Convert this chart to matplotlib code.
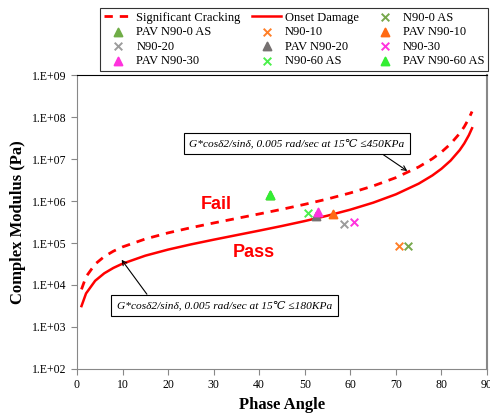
import matplotlib.pyplot as plt
import numpy as np
from matplotlib.lines import Line2D

plt.rcParams['font.family'] = ['Liberation Serif', 'DejaVu Serif']

# criteria curves (phase angle, modulus)
crit_angle = [1, 2, 4, 6, 8, 10, 15, 20, 25, 30, 35, 40, 45, 50, 55, 60,
              65, 70, 75, 78, 80, 82, 84, 85, 86, 86.7]
cracking = [7860, 15700, 31500, 47600, 63900, 80600, 124800, 174300, 231500,
            300000, 384700, 492900, 636400, 834300, 1120000, 1559000, 2283000,
            3615000, 6489000, 10180000, 14700000, 23010000, 40960000,
            59010000, 92250000, 135600000]
onset = [3140, 6290, 12600, 19000, 25500, 32200, 49900, 69700, 92600, 120000,
         153900, 197200, 254600, 333700, 448200, 623500, 913400, 1446000,
         2596000, 4073000, 5879000, 9203000, 16380000, 23610000, 36900000,
         54230000]

# samples: name, phase angle, modulus
samples = ["N90-0 AS", "PAV N90-0 AS", "N90-10", "PAV N90-10", "N90-20",
           "PAV N90-20", "N90-30", "PAV N90-30", "N90-60 AS", "PAV N90-60 AS"]
phase = [72.7, 42.3, 70.7, 56.3, 58.7, 52.5, 60.9, 53.0, 50.6, 42.4]
modulus = [87000, 1380000, 85000, 480000, 280000, 450000, 320000, 560000,
           510000, 1380000]
markers = ["x", "^", "x", "^", "x", "^", "x", "^", "x", "^"]
colors = ["#77a84c", "#70ad47", "#ff7f27", "#ff6a13", "#9c9c9c", "#767171",
          "#ff33dd", "#ff33dd", "#4cf04c", "#33ee33"]

fig = plt.figure(figsize=(4.9, 4.15), dpi=100)
ax = fig.add_axes([0.157, 0.111, 0.837, 0.708])

ln_sc, = ax.plot(crit_angle, cracking, color="red", lw=2, ls=(0, (3, 2.5)))
ln_on, = ax.plot(crit_angle, onset, color="red", lw=1.8)

handles = {}
for name, x, y, m, c in zip(samples, phase, modulus, markers, colors):
    h = ax.scatter([x], [y], marker=m, color=c, s=32 if m == "^" else 30,
                   linewidths=1.4, zorder=3)
    handles[name] = h

ax.set_yscale("log")
ax.set_ylim(1e2, 1e9)
ax.set_xlim(0, 90)
ax.set_xticks(range(0, 91, 10))
ax.set_yticks([10.0 ** k for k in range(2, 10)])
ax.set_yticklabels(["1.E+%02d" % k for k in range(2, 10)])
ax.minorticks_off()
ax.tick_params(labelsize=8.5, direction="out", length=4, color="#888888")
ax.tick_params(axis="y", which="minor", left=False)
for s in ["left", "bottom", "right"]:
    ax.spines[s].set_color("#888888")
ax.spines["right"].set_linewidth(1.5)
ax.spines["top"].set_color("black")

ax.set_xlabel("Phase Angle", fontsize=12, fontweight="bold", labelpad=4)
ax.set_ylabel("Complex Modulus (Pa)", fontsize=12, fontweight="bold",
              labelpad=4)

ax.text(30.5, 8.5e5, "Fail", color="red", fontsize=13, fontweight="bold",
        family="Liberation Sans", ha="center", va="center")
ax.text(38.8, 5.8e4, "Pass", color="red", fontsize=13, fontweight="bold",
        family="Liberation Sans", ha="center", va="center")

box = dict(boxstyle="square,pad=0.5", fc="white", ec="black", lw=0.8)
ax.annotate("G*cosδ2/sinδ, 0.005 rad/sec at 15℃ ≤450KPa",
            xy=(72.5, 5.2e6), xytext=(48.3, 2.3e7), fontsize=8.2,
            style="italic", ha="center", va="center", bbox=box,
            arrowprops=dict(arrowstyle="->", color="black", lw=0.8,
                            shrinkA=0, shrinkB=0, relpos=(0.86, 0.0)))
ax.annotate("G*cosδ2/sinδ, 0.005 rad/sec at 15℃ ≤180KPa",
            xy=(9.8, 4.0e4), xytext=(32.4, 3.3e3), fontsize=8.2,
            style="italic", ha="center", va="center", bbox=box,
            arrowprops=dict(arrowstyle="->", color="black", lw=0.8,
                            shrinkA=0, shrinkB=0, relpos=(0.16, 1.0)))

# legend is filled row by row in the reference
order = ["Significant Cracking", "PAV N90-0 AS", "N90-20", "PAV N90-30",
         "Onset Damage", "N90-10", "PAV N90-20", "N90-60 AS",
         "N90-0 AS", "PAV N90-10", "N90-30", "PAV N90-60 AS"]
handles["Significant Cracking"] = ln_sc
handles["Onset Damage"] = ln_on
leg = fig.legend([handles[n] for n in order], order, ncol=3,
                 loc="upper left", mode="expand",
                 bbox_to_anchor=(0.204, 0.836, 0.792, 0.145),
                 fontsize=9, frameon=True, fancybox=False, edgecolor="black",
                 handlelength=2.3, handletextpad=0.3, columnspacing=0.5,
                 labelspacing=0.2, borderpad=0.3, borderaxespad=0)
leg.get_frame().set_linewidth(0.8)

fig.savefig("out.png", dpi=100)
